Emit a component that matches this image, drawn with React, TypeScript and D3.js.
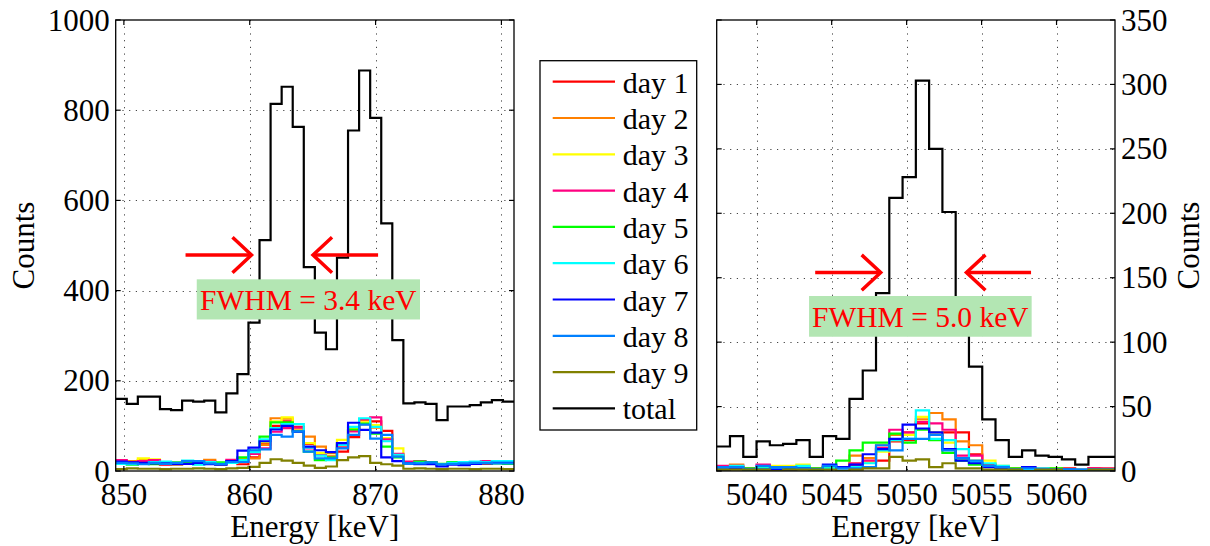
import React from "react";
import * as d3 from "d3";

// ---------------- DATA ----------------
const dayNames = ["day 1", "day 2", "day 3", "day 4", "day 5", "day 6", "day 7", "day 8", "day 9", "total"];
const dayColors = ["#ff0000", "#ff8000", "#ffff00", "#ff0080", "#00ff00", "#00ffff", "#0000ff", "#0080ff", "#808000", "#000000"];

// Left panel (≈ 860/870 keV doublet), 36 bins
const leftBinStart = 849.35;
const leftBinEnd = 881.0;
const leftXTicks = [850, 860, 870, 880];
const leftYTicks = [0, 200, 400, 600, 800, 1000];

const leftDay1 = [22,17,20,19,14,16,17,21,19,14,20,15,30,62,100,110,98,60,38,30,43,75,104,110,89,36,18,16,20,14,19,17,18,16,21,19];
const leftDay2 = [20,22,24,21,16,14,20,22,25,16,19,28,28,58,117,116,90,76,54,40,56,90,112,96,72,34,20,19,17,13,16,18,17,19,18,20];
const leftDay3 = [18,19,28,26,18,15,18,17,16,15,22,25,40,64,110,119,95,62,40,34,69,95,108,102,73,50,19,18,19,15,18,16,19,17,20,17];
const leftDay4 = [24,20,22,24,15,17,16,19,21,17,25,22,38,50,87,95,96,50,35,32,52,88,115,119,70,38,21,22,18,12,17,19,16,22,19,21];
const leftDay5 = [17,14,17,15,16,19,19,15,18,19,20,30,45,76,108,108,88,43,24,30,60,92,105,83,54,30,17,21,20,16,20,18,17,18,17,16];
const leftDay6 = [16,15,16,20,21,16,23,14,20,16,18,24,42,70,95,104,104,52,34,24,58,98,117,98,66,36,16,18,16,14,18,20,21,20,22,22];
const leftDay7 = [21,19,18,17,17,15,16,18,15,14,22,45,52,66,92,100,87,54,46,42,62,107,91,85,30,22,17,15,15,10,14,13,16,17,18,18];
const leftDay8 = [18,17,15,18,16,18,22,22,17,15,20,20,46,48,80,76,88,43,28,28,50,80,103,72,80,32,17,17,19,15,16,17,18,18,17,17];
const leftDay9 = [4,6,5,5,4,5,5,6,5,4,6,7,9,18,26,23,18,12,7,10,24,30,33,18,15,12,5,6,5,4,5,5,4,5,5,4];
const leftTotal = [160,149,165,165,137,135,156,154,156,130,172,215,329,512,814,852,763,452,307,270,473,755,888,783,549,290,150,152,149,113,143,143,146,152,157,154];

// Right panel (≈ 5050 keV), 30 bins
const rightBinStart = 5037.33;
const rightBinEnd = 5063.9;
const rightXTicks = [5040, 5045, 5050, 5055, 5060];
const rightYTicks = [0, 50, 100, 150, 200, 250, 300, 350];

const rightDay1 = [3,3,1,2,2,2,3,1,3,2,5,7,8,23,24,37,28,30,30,13,4,3,1,2,1,1,2,1,2,1];
const rightDay2 = [2,5,1,3,3,3,2,1,4,2,12,10,20,28,30,40,45,40,23,20,5,2,2,1,2,1,1,0,1,1];
const rightDay3 = [1,2,1,2,4,4,5,1,2,3,6,7,15,24,28,42,30,22,8,8,8,4,1,2,1,2,1,1,1,2];
const rightDay4 = [4,4,2,5,3,2,3,2,3,3,6,8,18,32,30,38,37,32,12,12,5,3,1,3,2,1,1,1,2,2];
const rightDay5 = [2,3,2,3,2,2,2,2,3,8,16,22,22,29,22,32,24,14,8,5,4,2,2,2,1,2,1,0,1,1];
const rightDay6 = [2,4,1,2,2,3,4,1,2,2,3,6,16,24,25,47,25,24,17,7,6,4,1,1,2,1,1,1,1,1];
const rightDay7 = [1,2,1,1,1,1,2,1,5,3,5,13,17,25,36,33,30,17,8,6,3,2,1,3,1,1,1,0,1,1];
const rightDay8 = [3,3,1,4,3,3,2,1,4,2,2,3,20,16,25,25,28,16,10,8,4,3,1,2,1,1,1,1,1,1];
const rightDay9 = [1,1,1,1,0,1,1,1,1,0,1,2,2,11,8,9,3,6,2,2,1,1,1,0,1,1,0,0,1,1];
const rightTotal = [19,27,11,23,20,21,24,11,27,25,56,78,138,212,228,303,250,201,118,81,40,24,11,16,12,11,9,5,11,11];

// Annotations (data units)
const leftFwhmLabel = "FWHM = 3.4 keV";
const rightFwhmLabel = "FWHM = 5.0 keV";
const leftArrow = { y: 479, rTail: 854.9, rTip: 860.14, lTip: 865.03, lTail: 870.2 };
const rightArrow = { y: 154, rTail: 5043.9, rTip: 5048.27, lTip: 5053.99, lTail: 5058.3 };
const leftBox = { x0: 855.79, x1: 873.53, y0: 336, y1: 425 };
const rightBox = { x0: 5043.49, x1: 5058.34, y0: 104.2, y1: 135.8 };

// ---------------- LAYOUT ----------------
const FONT = "'Liberation Serif', 'Times New Roman', Tinos, 'DejaVu Serif', serif";
const TOP = 20;
const BOTTOM = 471;

const leftX = d3.scaleLinear().domain([leftBinStart, leftBinEnd]).range([115.7, 514]);
const leftY = d3.scaleLinear().domain([0, 1000]).range([BOTTOM, TOP]);
const rightX = d3.scaleLinear().domain([rightBinStart, rightBinEnd]).range([716.7, 1115]);
const rightY = d3.scaleLinear().domain([0, 350]).range([BOTTOM, TOP]);

const leftSeries = [leftDay1, leftDay2, leftDay3, leftDay4, leftDay5, leftDay6, leftDay7, leftDay8, leftDay9, leftTotal];
const rightSeries = [rightDay1, rightDay2, rightDay3, rightDay4, rightDay5, rightDay6, rightDay7, rightDay8, rightDay9, rightTotal];

function stairs(values: number[], start: number, end: number, x: any, y: any) {
  const w = (end - start) / values.length;
  const pts: [number, number][] = values.map((v, i) => [start + i * w, v]);
  pts.push([end, values[values.length - 1]]);
  const line = d3
    .line<[number, number]>()
    .x((d) => x(d[0]))
    .y((d) => y(d[1]))
    .curve(d3.curveStepAfter);
  return line(pts) || "";
}

function Arrow({ tail, tip }: { tail: [number, number]; tip: [number, number] }) {
  const dir = Math.sign(tip[0] - tail[0]);
  const hx = 19;
  const hy = 17.7;
  return (
    <g stroke="#ff0000" strokeWidth={3.5} fill="none" strokeLinecap="butt">
      <line x1={tail[0]} y1={tail[1]} x2={tip[0]} y2={tip[1]} />
      <polyline
        points={`${tip[0] - dir * hx},${tip[1] - hy} ${tip[0]},${tip[1]} ${tip[0] - dir * hx},${tip[1] + hy}`}
      />
    </g>
  );
}

const textStyle = { fontFamily: FONT } as React.CSSProperties;

function Panel(props: {
  id: string;
  x: any;
  y: any;
  xTicks: number[];
  yTicks: number[];
  series: number[][];
  binStart: number;
  binEnd: number;
  ySide: "left" | "right";
  arrow: any;
  box: any;
  label: string;
}) {
  const { id, x, y, xTicks, yTicks, series, binStart, binEnd, ySide, arrow, box, label } = props;
  const [x0, x1] = x.range();
  const [yb, yt] = y.range();
  const tickLen = 5;
  const bx0 = x(box.x0);
  const bx1 = x(box.x1);
  const by0 = y(box.y1);
  const by1 = y(box.y0);
  return (
    <g>
      <defs>
        <clipPath id={id}>
          <rect x={x0} y={yt} width={x1 - x0} height={yb - yt} />
        </clipPath>
      </defs>
      <rect x={x0} y={yt} width={x1 - x0} height={yb - yt} fill="#fff" />
      {/* grid */}
      <g stroke="#444" strokeWidth={1} strokeDasharray="1.2,5.5">
        {xTicks
          .filter((t) => Math.abs(x(t) - x0) > 2 && Math.abs(x(t) - x1) > 2)
          .map((t) => (
            <line key={"gx" + t} x1={Math.round(x(t)) + 0.5} x2={Math.round(x(t)) + 0.5} y1={yt} y2={yb} />
          ))}
        {yTicks
          .filter((t) => Math.abs(y(t) - yb) > 2 && Math.abs(y(t) - yt) > 2)
          .map((t) => (
            <line key={"gy" + t} x1={x0} x2={x1} y1={Math.round(y(t)) + 0.5} y2={Math.round(y(t)) + 0.5} />
          ))}
      </g>
      {/* histograms */}
      <g clipPath={`url(#${id})`} fill="none" strokeWidth={2.2} strokeLinejoin="miter">
        {series.map((s, i) => (
          <path key={i} d={stairs(s, binStart, binEnd, x, y)} stroke={dayColors[i]} />
        ))}
      </g>
      {/* annotation */}
      <rect x={bx0} y={by0} width={bx1 - bx0} height={by1 - by0} fill="rgb(179,230,179)" />
      <text
        x={(bx0 + bx1) / 2}
        y={by1 - 9.5}
        fill="#ff0000"
        style={{ ...textStyle, fontSize: "29.5px" }}
        textAnchor="middle"
      >
        {label}
      </text>
      <Arrow tail={[x(arrow.rTail), y(arrow.y)]} tip={[x(arrow.rTip), y(arrow.y)]} />
      <Arrow tail={[x(arrow.lTail), y(arrow.y)]} tip={[x(arrow.lTip), y(arrow.y)]} />
      {/* frame */}
      <rect x={x0} y={yt} width={x1 - x0} height={yb - yt} fill="none" stroke="#000" strokeWidth={1.3} />
      {/* ticks */}
      <g stroke="#000" strokeWidth={1.2}>
        {xTicks.map((t) => (
          <g key={"tx" + t}>
            <line x1={x(t)} x2={x(t)} y1={yb} y2={yb - tickLen} />
            <line x1={x(t)} x2={x(t)} y1={yt} y2={yt + tickLen} />
          </g>
        ))}
        {yTicks.map((t) => (
          <g key={"ty" + t}>
            <line x1={x0} x2={x0 + tickLen} y1={y(t)} y2={y(t)} />
            <line x1={x1} x2={x1 - tickLen} y1={y(t)} y2={y(t)} />
          </g>
        ))}
      </g>
      {/* tick labels */}
      <g style={{ ...textStyle, fontSize: "31px" }} fill="#000">
        {xTicks.map((t) => (
          <text key={"lx" + t} x={x(t)} y={505} textAnchor="middle">
            {t}
          </text>
        ))}
        {yTicks.map((t) => (
          <text
            key={"ly" + t}
            x={ySide === "left" ? x0 - 6 : x1 + 6}
            y={y(t) + 10.5}
            textAnchor={ySide === "left" ? "end" : "start"}
          >
            {t}
          </text>
        ))}
        <text x={(x0 + x1) / 2} y={536.5} textAnchor="middle">
          Energy [keV]
        </text>
        <text
          transform={`translate(${ySide === "left" ? 34 : 1199},${(yt + yb) / 2}) rotate(-90)`}
          textAnchor="middle"
        >
          Counts
        </text>
      </g>
    </g>
  );
}

function Legend() {
  const lx0 = 540;
  const ly0 = 60.7;
  const w = 156.7;
  const h = 369.3;
  const rowY0 = 81.7;
  const rowStep = 36.3;
  return (
    <g>
      <rect x={lx0} y={ly0} width={w} height={h} fill="#fff" stroke="#000" strokeWidth={1.3} />
      {dayNames.map((n, i) => {
        const yy = rowY0 + i * rowStep;
        return (
          <g key={n}>
            <line x1={552.7} x2={615} y1={yy} y2={yy} stroke={dayColors[i]} strokeWidth={2.2} />
            <text x={622.7} y={yy + 11} style={{ ...textStyle, fontSize: "30px" }} fill="#000">
              {n}
            </text>
          </g>
        );
      })}
    </g>
  );
}

export default function App() {
  return (
    <svg
      width={1210}
      height={546}
      viewBox="0 0 1210 546"
      style={{ position: "absolute", left: 0, top: 0, background: "#fff" }}
    >
      <rect x={0} y={0} width={1210} height={546} fill="#fff" />
      <Panel
        id="clipL"
        x={leftX}
        y={leftY}
        xTicks={leftXTicks}
        yTicks={leftYTicks}
        series={leftSeries}
        binStart={leftBinStart}
        binEnd={leftBinEnd}
        ySide="left"
        arrow={leftArrow}
        box={leftBox}
        label={leftFwhmLabel}
      />
      <Panel
        id="clipR"
        x={rightX}
        y={rightY}
        xTicks={rightXTicks}
        yTicks={rightYTicks}
        series={rightSeries}
        binStart={rightBinStart}
        binEnd={rightBinEnd}
        ySide="right"
        arrow={rightArrow}
        box={rightBox}
        label={rightFwhmLabel}
      />
      <Legend />
    </svg>
  );
}
